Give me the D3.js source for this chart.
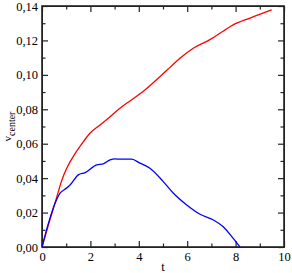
<!DOCTYPE html>
<html>
<head>
<meta charset="utf-8">
<script src="https://cdn.jsdelivr.net/npm/d3@7"></script>
<style>
  body { margin: 0; background: #fff; }
  svg { display: block; }
  .axis path, .axis line { stroke: #222; }
</style>
</head>
<body>
<svg class="chart"></svg>
<script>
const WIDTH = 292;
const HEIGHT = 273;
const MARGIN = { top: 6, right: 8, bottom: 26, left: 42 };
const SERIF = "Liberation Serif";

// red curve (t, v)
const redT = [0, 0.3, 0.61, 0.8, 1.02, 1.29, 1.6, 1.98, 2.4, 2.8, 3.22, 3.65, 4.12, 4.5, 4.88, 5.3, 5.7, 6.25, 6.94, 7.5, 7.9, 8.6, 9.49];
const redV = [0, 0.0145, 0.029, 0.038, 0.0457, 0.0525, 0.059, 0.0661, 0.0709, 0.0755, 0.0806, 0.085, 0.0897, 0.0942, 0.099, 0.1045, 0.1097, 0.1155, 0.1205, 0.1255, 0.129, 0.133, 0.1378];

// blue curve (t, v)
const blueT = [0, 0.25, 0.54, 0.74, 0.95, 1.16, 1.5, 1.78, 2.26, 2.53, 2.81, 3.02, 3.22, 3.7, 4.05, 4.46, 5.01, 5.43, 5.98, 6.53, 7.08, 7.49, 7.9, 8.18];
const blueV = [0, 0.013, 0.0254, 0.0312, 0.0335, 0.036, 0.0419, 0.0432, 0.0477, 0.0483, 0.0506, 0.0512, 0.051, 0.051, 0.0487, 0.0457, 0.038, 0.0312, 0.0244, 0.019, 0.0157, 0.0118, 0.005, 0];

const xMajor = [0, 2, 4, 6, 8, 10];
const xMinor = [1, 3, 5, 7, 9];
const yMajor = [0, 0.02, 0.04, 0.06, 0.08, 0.10, 0.12, 0.14];
const yMinor = [0.01, 0.03, 0.05, 0.07, 0.09, 0.11, 0.13];

const W = WIDTH - MARGIN.left - MARGIN.right;
const H = HEIGHT - MARGIN.top - MARGIN.bottom;
const FORMAT_Y = d => d3.format(".2f")(d).replace(".", ",");

let svg = d3.select(".chart").attr("width", WIDTH).attr("height", HEIGHT);
let chart = svg.append("g").attr("transform", `translate(${MARGIN.left},${MARGIN.top})`);

let x = d3.scaleLinear().domain([0, 10]).range([0, W]);
let y = d3.scaleLinear().domain([0, 0.14]).range([H, 0]);

// major + minor ticks, all pointing inward
const addAxis = (axis, transform) => {
  chart.append("g").attr("class", "axis").attr("transform", transform).call(axis)
       .attr("font-family", SERIF).attr("font-size", 12.5);
}

addAxis(d3.axisBottom(x).tickValues(xMajor).tickSizeInner(-6).tickSizeOuter(0).tickPadding(5), `translate(0,${H})`);
addAxis(d3.axisBottom(x).tickValues(xMinor).tickSizeInner(-3.5).tickSizeOuter(0).tickFormat(""), `translate(0,${H})`);
addAxis(d3.axisTop(x).tickValues(xMajor).tickSizeInner(-6).tickSizeOuter(0).tickFormat(""), "translate(0,0)");
addAxis(d3.axisTop(x).tickValues(xMinor).tickSizeInner(-3.5).tickSizeOuter(0).tickFormat(""), "translate(0,0)");
addAxis(d3.axisLeft(y).tickValues(yMajor).tickSizeInner(-6).tickSizeOuter(0).tickPadding(4).tickFormat(FORMAT_Y), "translate(0,0)");
addAxis(d3.axisLeft(y).tickValues(yMinor).tickSizeInner(-3.5).tickSizeOuter(0).tickFormat(""), "translate(0,0)");
addAxis(d3.axisRight(y).tickValues(yMajor).tickSizeInner(-6).tickSizeOuter(0).tickFormat(""), `translate(${W},0)`);
addAxis(d3.axisRight(y).tickValues(yMinor).tickSizeInner(-3.5).tickSizeOuter(0).tickFormat(""), `translate(${W},0)`);

chart.selectAll(".axis line").attr("stroke-width", 1.2);

// frame
chart.append("rect")
     .attr("width", W).attr("height", H)
     .attr("fill", "none").attr("stroke", "#222").attr("stroke-width", 1.6);

const line = d3.line().x(d => x(d[0])).y(d => y(d[1])).curve(d3.curveMonotoneX);

chart.append("path")
     .datum(redT.map((t, i) => [t, redV[i]]))
     .attr("fill", "none").attr("stroke", "#ff0000").attr("stroke-width", 1.3)
     .attr("d", line);

chart.append("path")
     .datum(blueT.map((t, i) => [t, blueV[i]]))
     .attr("fill", "none").attr("stroke", "#0000ff").attr("stroke-width", 1.3)
     .attr("d", line);

// axis labels
svg.append("text")
   .attr("x", MARGIN.left + W / 2).attr("y", 271)
   .attr("text-anchor", "middle").attr("font-size", 12.5).attr("font-family", SERIF)
   .text("t");

let yl = svg.append("text")
   .attr("transform", `translate(11,${MARGIN.top + H / 2}) rotate(-90)`)
   .attr("text-anchor", "middle").attr("font-size", 11).attr("font-family", SERIF);
yl.append("tspan").text("v");
yl.append("tspan").attr("font-size", 10).attr("dy", 3.5).text("center");
</script>
</body>
</html>
